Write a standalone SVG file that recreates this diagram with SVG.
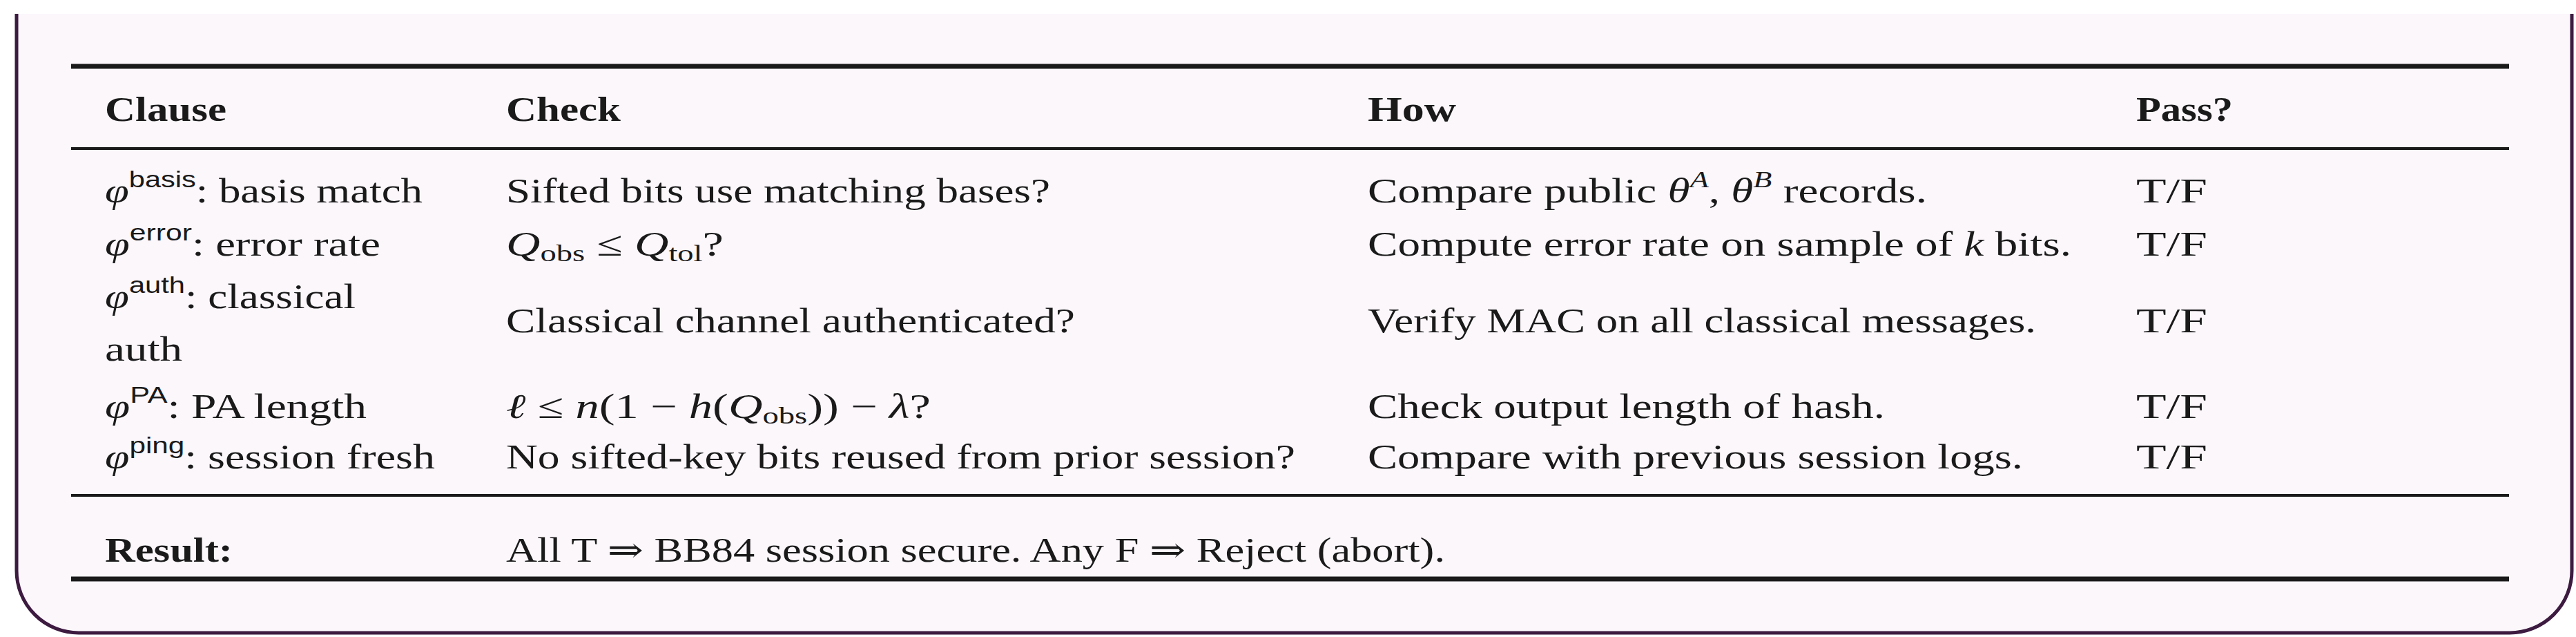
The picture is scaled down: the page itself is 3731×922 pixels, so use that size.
<svg xmlns="http://www.w3.org/2000/svg" width="3731" height="922" viewBox="0 0 3731 922">
<style>
text{font-family:"Liberation Serif","DejaVu Serif",serif;font-size:50px;fill:#1a1a1a}
.b{font-weight:bold}
.i{font-style:italic}
.s{font-family:"Liberation Sans","DejaVu Sans",sans-serif;font-size:33px}
.sub{font-size:34px}
.rule{stroke:#1a1a1a}
</style>
<rect width="3731" height="922" fill="#ffffff"/>
<path d="M24,20 V826 A90,90 0 0 0 114,916 H3635 A90,90 0 0 0 3725,826 V20" fill="#fbf7fb" stroke="#3d1a40" stroke-width="5"/>
<g id="rules">
<line class="rule" x1="103" y1="96" x2="3634" y2="96" stroke-width="7"/>
<line class="rule" x1="103" y1="215" x2="3634" y2="215" stroke-width="4"/>
<line class="rule" x1="103" y1="717" x2="3634" y2="717" stroke-width="4"/>
<line class="rule" x1="103" y1="838" x2="3634" y2="838" stroke-width="7"/>
</g>
<g id="header">
<text class="b" x="152" y="175" textLength="176" lengthAdjust="spacingAndGlyphs">Clause</text>
<text class="b" x="733" y="175" textLength="166" lengthAdjust="spacingAndGlyphs">Check</text>
<text class="b" x="1981" y="175" textLength="128" lengthAdjust="spacingAndGlyphs">How</text>
<text class="b" x="3094" y="175" textLength="140" lengthAdjust="spacingAndGlyphs">Pass?</text>
</g>
<g id="row-basis">
<text x="152" y="293" textLength="460" lengthAdjust="spacingAndGlyphs"><tspan class="i">φ</tspan><tspan class="s" dy="-22">basis</tspan><tspan dy="22">: basis match</tspan></text>
<text x="733" y="293" textLength="788" lengthAdjust="spacingAndGlyphs">Sifted bits use matching bases?</text>
<text x="1981" y="293" textLength="810" lengthAdjust="spacingAndGlyphs">Compare public <tspan class="i">θ</tspan><tspan class="i sub" dy="-22">A</tspan><tspan dy="22">, </tspan><tspan class="i">θ</tspan><tspan class="i sub" dy="-22">B</tspan><tspan dy="22"> records.</tspan></text>
<text x="3094" y="293" textLength="103" lengthAdjust="spacingAndGlyphs">T/F</text>
</g>
<g id="row-error">
<text x="152" y="370" textLength="399" lengthAdjust="spacingAndGlyphs"><tspan class="i">φ</tspan><tspan class="s" dy="-22">error</tspan><tspan dy="22">: error rate</tspan></text>
<text x="733" y="370" textLength="315" lengthAdjust="spacingAndGlyphs"><tspan class="i">Q</tspan><tspan class="sub" dy="8">obs</tspan><tspan dy="-8"> ≤ </tspan><tspan class="i">Q</tspan><tspan class="sub" dy="8">tol</tspan><tspan dy="-8">?</tspan></text>
<text x="1981" y="370" textLength="1019" lengthAdjust="spacingAndGlyphs">Compute error rate on sample of <tspan class="i">k</tspan> bits.</text>
<text x="3094" y="370" textLength="103" lengthAdjust="spacingAndGlyphs">T/F</text>
</g>
<g id="row-auth">
<text x="152" y="446" textLength="363" lengthAdjust="spacingAndGlyphs"><tspan class="i">φ</tspan><tspan class="s" dy="-22">auth</tspan><tspan dy="22">: classical</tspan></text>
<text x="152" y="522" textLength="112" lengthAdjust="spacingAndGlyphs">auth</text>
<text x="733" y="481" textLength="824" lengthAdjust="spacingAndGlyphs">Classical channel authenticated?</text>
<text x="1981" y="481" textLength="968" lengthAdjust="spacingAndGlyphs">Verify MAC on all classical messages.</text>
<text x="3094" y="481" textLength="103" lengthAdjust="spacingAndGlyphs">T/F</text>
</g>
<g id="row-pa">
<text x="152" y="605" textLength="379" lengthAdjust="spacingAndGlyphs"><tspan class="i">φ</tspan><tspan class="s" dy="-22">PA</tspan><tspan dy="22">: PA length</tspan></text>
<text x="733" y="605" textLength="615" lengthAdjust="spacingAndGlyphs"><tspan class="i">ℓ</tspan> ≤ <tspan class="i">n</tspan>(1 − <tspan class="i">h</tspan>(<tspan class="i">Q</tspan><tspan class="sub" dy="8">obs</tspan><tspan dy="-8">)) − </tspan><tspan class="i">λ</tspan>?</text>
<text x="1981" y="605" textLength="749" lengthAdjust="spacingAndGlyphs">Check output length of hash.</text>
<text x="3094" y="605" textLength="103" lengthAdjust="spacingAndGlyphs">T/F</text>
</g>
<g id="row-ping">
<text x="152" y="678" textLength="478" lengthAdjust="spacingAndGlyphs"><tspan class="i">φ</tspan><tspan class="s" dy="-22">ping</tspan><tspan dy="22">: session fresh</tspan></text>
<text x="733" y="678" textLength="1143" lengthAdjust="spacingAndGlyphs">No sifted-key bits reused from prior session?</text>
<text x="1981" y="678" textLength="949" lengthAdjust="spacingAndGlyphs">Compare with previous session logs.</text>
<text x="3094" y="678" textLength="103" lengthAdjust="spacingAndGlyphs">T/F</text>
</g>
<g id="result">
<text class="b" x="152" y="813" textLength="185" lengthAdjust="spacingAndGlyphs">Result:</text>
<text x="733" y="813" textLength="1360" lengthAdjust="spacingAndGlyphs">All T ⇒ BB84 session secure. Any F ⇒ Reject (abort).</text>
</g>
</svg>
